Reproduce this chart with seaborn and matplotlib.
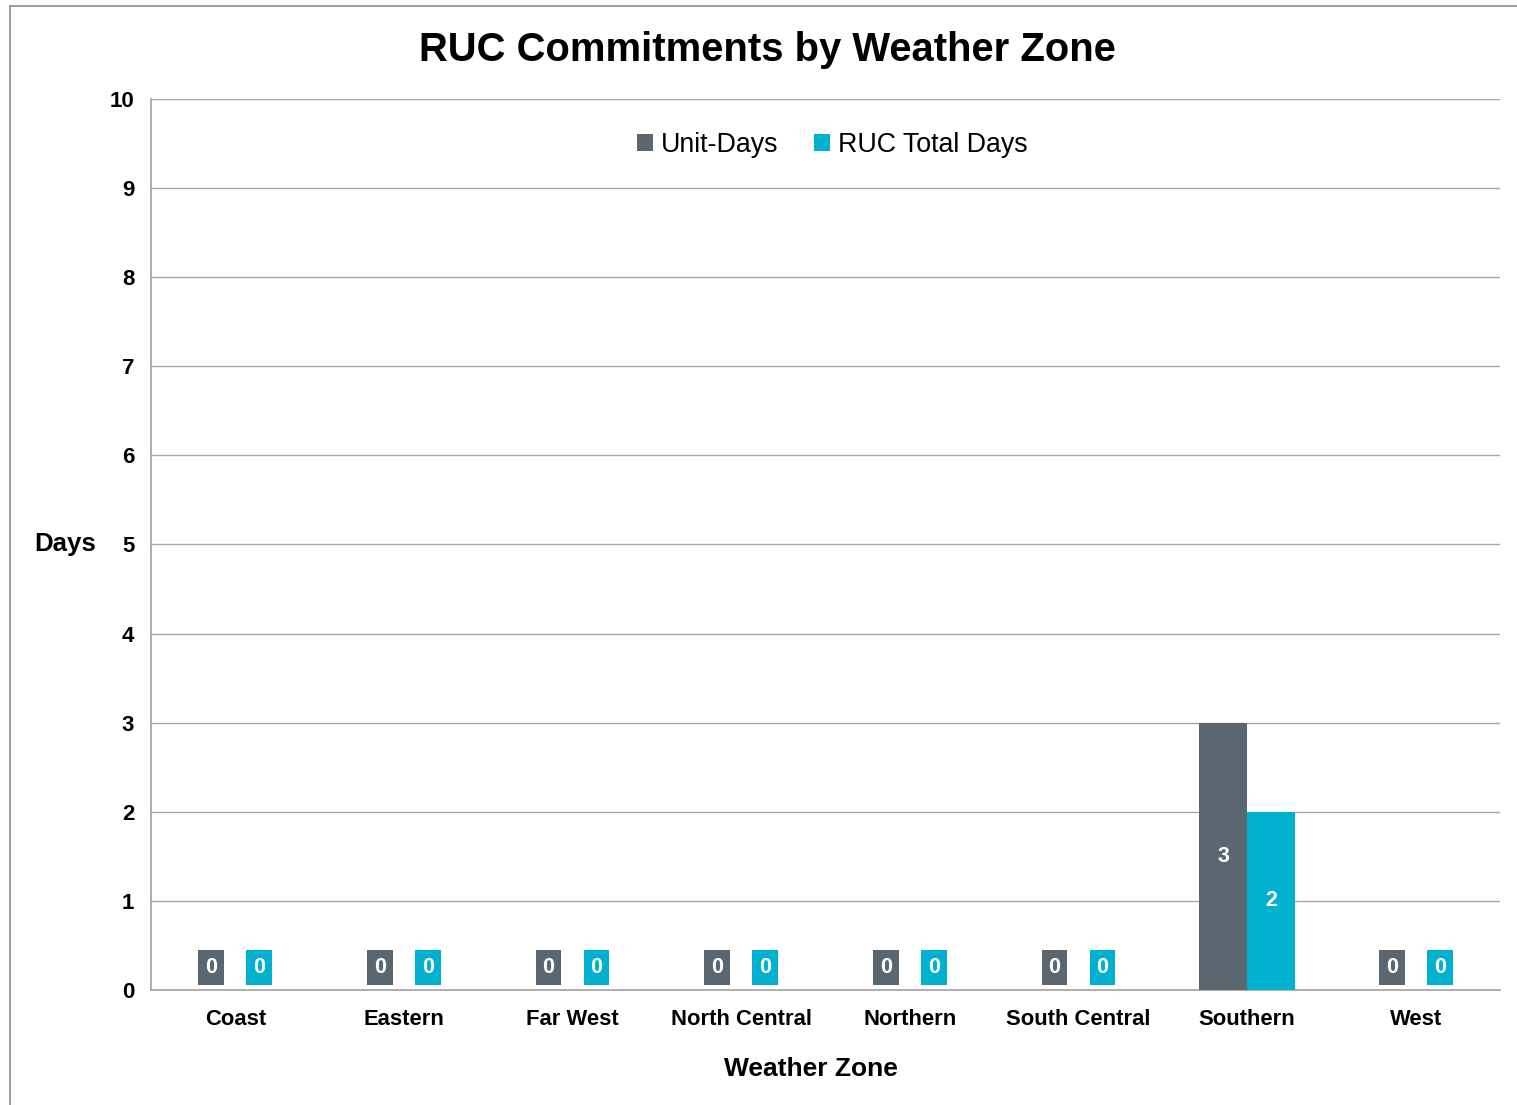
import matplotlib
matplotlib.use("Agg")
import matplotlib.pyplot as plt
import seaborn as sns
import pandas as pd
from matplotlib.patches import Rectangle

zones = ["Coast", "Eastern", "Far West", "North Central", "Northern",
         "South Central", "Southern", "West"]
unit_days = [0, 0, 0, 0, 0, 0, 3, 0]
ruc_total_days = [0, 0, 0, 0, 0, 0, 2, 0]
series_names = ["Unit-Days", "RUC Total Days"]
colors = ["#5b6770", "#00b2cf"]
yticks = list(range(0, 11))

df = pd.DataFrame({
    "Zone": zones * 2,
    "Days": unit_days + ruc_total_days,
    "Series": [series_names[0]] * len(zones) + [series_names[1]] * len(zones),
})

sns.set_theme(style="white")
plt.rcParams["font.family"] = ["Liberation Sans", "DejaVu Sans"]
plt.rcParams["text.color"] = "black"
plt.rcParams["axes.labelcolor"] = "black"
plt.rcParams["xtick.color"] = "black"
plt.rcParams["ytick.color"] = "black"

fig = plt.figure(figsize=(15.17, 11.05), dpi=100)
ax = fig.add_axes([0.0995, 0.1041, 0.8893, 0.8063])

sns.barplot(data=df, x="Zone", y="Days", hue="Series", order=zones,
            hue_order=series_names, palette=colors, width=0.57,
            saturation=1, ax=ax, edgecolor="none", legend=True, zorder=3)

ax.set_ylim(0, 10)
ax.set_yticks(yticks)
ax.set_yticklabels([str(t) for t in yticks], fontsize=16, fontweight="bold")
ax.set_xlim(-0.5, len(zones) - 0.5)
ax.tick_params(axis="y", length=6, color="#8c8c8c", labelcolor="black",
               width=1, pad=6)
ax.tick_params(axis="x", length=0, pad=14, labelcolor="black")
for lbl in ax.get_xticklabels():
    lbl.set_fontsize(15.8)
    lbl.set_fontweight("bold")

ax.grid(axis="y", color="#a6a6a6", linewidth=1, zorder=0)
ax.set_axisbelow(True)
for s in ["top", "right"]:
    ax.spines[s].set_visible(False)
ax.spines["left"].set_color("#a6a6a6")
ax.spines["bottom"].set_color("#a6a6a6")

ax.set_xlabel("Weather Zone", fontsize=19, fontweight="bold", color="black")
ax.xaxis.set_label_coords((811 - 151) / 1349, -(1057 - 990) / 891)
ax.set_ylabel("Days", fontsize=18.6, fontweight="bold", rotation=0,
              va="center", color="black")
ax.yaxis.set_label_coords(-(151 - 65) / 1349, 0.5)

# data labels
for container, col in zip(ax.containers, colors):
    for bar in container:
        h = bar.get_height()
        xc = bar.get_x() + bar.get_width() / 2
        yc = h / 2 if h > 0 else 0.25
        ax.text(xc, yc, f"{int(round(h))}", ha="center", va="center",
                color="white", fontsize=15.5, fontweight="bold", zorder=5,
                bbox=dict(boxstyle="square,pad=0.32", fc=col, ec="none"))

leg = ax.legend(loc="center", bbox_to_anchor=(0.505, 0.948), ncol=2,
                frameon=False, fontsize=19.3, handlelength=0.6,
                handleheight=0.6, handletextpad=0.3, columnspacing=1.3)
for t in leg.get_texts():
    t.set_color("black")

fig.suptitle("RUC Commitments by Weather Zone", fontsize=28.8,
             fontweight="bold", x=0.506, y=0.972, color="black")

fig.patches.append(Rectangle((10 / 1517, -0.1), 1.5, 1.1 - 6 / 1105,
                             transform=fig.transFigure, fill=False,
                             edgecolor="#8c8c8c", linewidth=1.2))

fig.savefig("out.png", dpi=100)
